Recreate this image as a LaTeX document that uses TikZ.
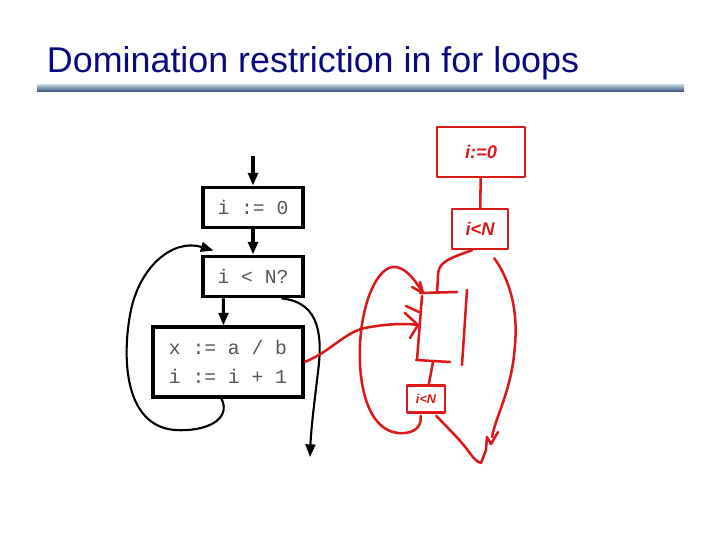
\documentclass[tikz,border=0pt]{standalone}
\usepackage{fontspec}
\setmainfont{Liberation Sans}
\setmonofont{Liberation Mono}
\usepackage{xcolor}
\definecolor{tNavy}{HTML}{0A0A80}
\definecolor{tRuleTop}{HTML}{C9DDE6}
\definecolor{tRuleBot}{HTML}{3D5A80}
\definecolor{tCode}{HTML}{555555}
\definecolor{pRed}{HTML}{DD1818}
\usepackage{tikz}
\usetikzlibrary{arrows.meta, positioning, calc}

\begin{document}
\begin{tikzpicture}[
  x=0.025cm, y=-0.025cm,
  cfg/.style={rectangle, draw=black, line width=2.2pt, fill=white,
              font=\ttfamily\fontsize{14}{21}\selectfont, text=tCode,
              minimum width=2.5cm, minimum height=1.02cm, align=left},
  flow/.style={line width=2.2pt, -{Triangle[length=9pt,width=7pt]}},
  back/.style={line width=1.5pt, -{Triangle[length=9pt,width=7pt]}},
  hand/.style={draw=pRed, line width=1.8pt, line cap=round, line join=round},
  handbox/.style={hand, rectangle, text=pRed, inner sep=2pt,
                  font=\bfseries\itshape\fontsize{13}{15}\selectfont}
]
\useasboundingbox (0,0) rectangle (720,540);

% title and rule
\node[anchor=base west, font=\fontsize{25.5}{30}\selectfont, text=tNavy]
  (title) at (42,72) {Domination restriction in for loops};
\shade[top color=tRuleTop, bottom color=tRuleBot] (37,84) rectangle (684,91);

% printed flow graph
\node[cfg] (b1) at (253,207.5) {i := 0};
\node[cfg] (b2) at (253,276.5) {i < N?};
\node[cfg, minimum width=3.75cm, minimum height=1.75cm] (b3) at (228,362)
  {x := a / b\\i := i + 1};

\coordinate (in) at (253,156);
\coordinate (out) at (310,457);
\draw[flow] (in) -- (b1);
\draw[flow] (b1) -- (b2);
\draw[flow] ($(b2.south west)+(22,0)$) -- ($(b3.north west)+(72,0)$);
\draw[back] ($(b3.south west)+(70,0)$)
  .. controls (232,420) and (205,432) .. (175,430)
  .. controls (125,426) and (122,360) .. (130,315)
  .. controls (138,268) and (172,238) .. ($(b2.north west)+(12,-4)$);
\draw[flow, line width=1.5pt] ($(b2.south west)+(80,0)$)
  .. controls (322,302) and (322,340) .. (318,372)
  .. controls (314,405) and (311,430) .. (out);

% hand-drawn version
\node[handbox, minimum width=2.2cm, minimum height=1.25cm] (r1) at (481,152) {i:=0};
\node[handbox, minimum width=1.4cm, minimum height=1.0cm] (r2) at (480,229) {i<N};
\node[handbox, minimum width=0.95cm, minimum height=0.68cm,
      font=\bfseries\itshape\fontsize{9}{11}\selectfont] (r3) at (426,399) {i<N};
\coordinate (body) at (440,327);
\draw[hand] (r1) -- (r2);

% body block, left open at the corners
\draw[hand] (420,293) -- (457,292);
\draw[hand] (422,296) -- (417,360);
\draw[hand] (416,360) -- (450,362);
\draw[hand] (467,290) -- (462,365);

\draw[hand] ($(r2.south)+(-8,0)$) .. controls (450,258) and (438,262) .. (438,275)
  -- (437,293);
\draw[hand] (433,362) -- (r3);

% back edge into the body
\draw[hand] ($(r3.south west)+(15,2)$) .. controls (422,430) and (410,434) .. (398,433)
  .. controls (368,430) and (358,385) .. (360,345)
  .. controls (362,300) and (378,268) .. (393,267)
  .. controls (405,266) and (415,280) .. (423,293);
\draw[hand] (412,287) -- (423,293) -- (420,282);

% edge from the printed block
\draw[hand] (b3.east) .. controls (330,352) and (345,332) .. (365,328)
  .. controls (385,324) and (405,323) .. (418,325);
\draw[hand] (405,313) -- (418,325) -- (410,338);
\draw[hand] (406,306) -- (419,312);

% exits
\draw[hand] ($(r2.south east)+(-15,8)$) .. controls (510,280) and (518,310) .. (515,345)
  .. controls (512,390) and (496,415) .. (492,437);
\draw[hand] ($(r3.south east)+(-10,2)$) .. controls (448,428) and (460,440) .. (466,448)
  .. controls (472,456) and (476,462) .. (481,463)
  -- (486,450) -- (487,437) -- (491,444) -- (498,432);
\end{tikzpicture}
\end{document}
